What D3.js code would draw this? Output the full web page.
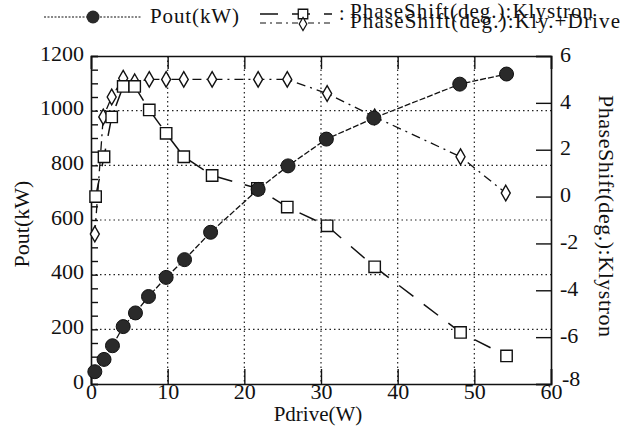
<!DOCTYPE html>
<html>
<head>
<meta charset="utf-8">
<script src="https://cdn.jsdelivr.net/npm/d3@7"></script>
<style>
body { margin: 0; background: #fff; }
</style>
</head>
<body>
<div id="chart"></div>
<script>
// Pout vs drive power
var poutDrive = [0.5, 1.7, 2.8, 4.2, 5.8, 7.5, 9.8, 12.2, 15.6, 21.8, 25.7, 30.7, 36.9, 48.1, 54.2];
var poutKW = [45, 90, 140, 210, 260, 320, 390, 455, 555, 712, 798, 896, 973, 1097, 1134];

// phase shift of the klystron alone (squares)
var klyDrive = [0.6, 1.7, 2.7, 4.2, 5.7, 7.6, 9.8, 12.1, 15.8, 21.7, 25.6, 30.8, 37.0, 48.2, 54.2];
var klyPhase = [0.0, 1.7, 3.4, 4.7, 4.7, 3.7, 2.7, 1.7, 0.9, 0.35, -0.45, -1.25, -3.0, -5.8, -6.8];

// phase shift klystron + drive (diamonds)
var kdDrive = [0.5, 1.6, 2.7, 4.2, 5.7, 7.6, 9.8, 12.1, 15.8, 21.8, 25.6, 30.8, 37.0, 48.2, 54.1];
var kdPhase = [-1.6, 3.4, 4.25, 5.05, 4.9, 5.0, 5.0, 5.0, 5.0, 5.0, 5.0, 4.4, 3.4, 1.7, 0.15];

var xTicks = [0, 10, 20, 30, 40, 50, 60];
var leftTicks = [0, 200, 400, 600, 800, 1000, 1200];
var rightTicks = [-8, -6, -4, -2, 0, 2, 4, 6];

var FONT = '"Liberation Serif", "Times New Roman", Tinos, "DejaVu Serif", serif';

var width = 633, height = 430;
var margin = {top: 56, right: 82, bottom: 46, left: 91};
var plotW = width - margin.left - margin.right;
var plotH = height - margin.top - margin.bottom;

var svg = d3.select('#chart').append('svg')
    .attr('width', width)
    .attr('height', height)
    .attr('font-family', FONT);

var g = svg.append('g')
    .attr('transform', 'translate(' + margin.left + ',' + margin.top + ')');

var x = d3.scaleLinear().domain([0, 60]).range([0, plotW]);
var yL = d3.scaleLinear().domain([0, 1200]).range([plotH, 0]);
var yR = d3.scaleLinear().domain([-8, 6]).range([plotH, 0]);

function addText(parent, str, size) {
    return parent.append('text')
        .attr('font-family', FONT)
        .attr('font-size', size)
        .attr('fill', '#111')
        .text(str);
}

// dotted grid
g.selectAll('line.vgrid')
    .data(xTicks.slice(1, -1))
    .enter().append('line')
    .attr('x1', function(d) { return x(d); })
    .attr('x2', function(d) { return x(d); })
    .attr('y1', 0).attr('y2', plotH)
    .attr('stroke', '#222').attr('stroke-width', 1.2)
    .attr('stroke-dasharray', '1.5,3');

g.selectAll('line.hgrid')
    .data(leftTicks.slice(1, -1))
    .enter().append('line')
    .attr('y1', function(d) { return yL(d); })
    .attr('y2', function(d) { return yL(d); })
    .attr('x1', 0).attr('x2', plotW)
    .attr('stroke', '#222').attr('stroke-width', 1.2)
    .attr('stroke-dasharray', '1.5,3');

// axes, ticks drawn inward
var bottomAxis = d3.axisBottom(x).tickValues(xTicks).tickSize(-15).tickPadding(2).tickFormat(d3.format('d'));
var topAxis = d3.axisTop(x).tickValues(xTicks).tickSize(-13).tickFormat('');
var leftAxis = d3.axisLeft(yL).tickValues(d3.range(0, 1201, 50)).tickSize(-7).tickFormat('');
var rightAxis = d3.axisRight(yR).tickValues(rightTicks).tickSize(-15).tickFormat('');

function styleAxis(sel) {
    sel.attr('font-family', FONT).attr('font-size', 22);
    sel.select('.domain').attr('stroke', '#111').attr('stroke-width', 1.6);
    sel.selectAll('.tick line').attr('stroke', '#111').attr('stroke-width', 1.4);
    sel.selectAll('text').attr('fill', '#111');
}

g.append('g').attr('transform', 'translate(0,' + plotH + ')').call(bottomAxis).call(styleAxis)
    .selectAll('.tick text').attr('dy', '0.6em');
g.append('g').call(topAxis).call(styleAxis);
g.append('g').call(leftAxis).call(styleAxis);
g.append('g').attr('transform', 'translate(' + plotW + ',0)').call(rightAxis).call(styleAxis);

// tick labels on the value axes
leftTicks.forEach(function(d) {
    addText(g, d, 22)
        .attr('x', -7)
        .attr('y', yL(d) - 3)
        .attr('dy', '0.35em')
        .attr('text-anchor', 'end');
});

rightTicks.forEach(function(d) {
    addText(g, d, 22)
        .attr('x', d === -8 ? plotW + 11 : plotW + 9)
        .attr('y', d === -8 ? yR(d) - 6 : yR(d) - 2)
        .attr('dy', '0.35em');
});

// series lines
var linePout = d3.line()
    .x(function(d) { return x(d[0]); })
    .y(function(d) { return yL(d[1]); });
var linePhase = d3.line()
    .x(function(d) { return x(d[0]); })
    .y(function(d) { return yR(d[1]); });

var poutData = d3.zip(poutDrive, poutKW);
var klyData = d3.zip(klyDrive, klyPhase);
var kdData = d3.zip(kdDrive, kdPhase);

g.append('path').datum(kdData).attr('d', linePhase)
    .attr('fill', 'none').attr('stroke', '#111').attr('stroke-width', 1.3)
    .attr('stroke-dasharray', '9,5,2,5');
g.append('path').datum(klyData).attr('d', linePhase)
    .attr('fill', 'none').attr('stroke', '#111').attr('stroke-width', 1.5)
    .attr('stroke-dasharray', '18,13');
g.append('path').datum(poutData).attr('d', linePout)
    .attr('fill', 'none').attr('stroke', '#111').attr('stroke-width', 1.3)
    .attr('stroke-dasharray', '6,2');

// markers
var diamond = d3.symbol().type(d3.symbolDiamond).size(70);
var square = d3.symbol().type(d3.symbolSquare).size(130);

g.selectAll('path.kd')
    .data(kdData)
    .enter().append('path')
    .attr('d', diamond)
    .attr('transform', function(d) { return 'translate(' + x(d[0]) + ',' + yR(d[1]) + ')'; })
    .attr('fill', '#fff').attr('stroke', '#111').attr('stroke-width', 1.4);

g.selectAll('path.kly')
    .data(klyData)
    .enter().append('path')
    .attr('d', square)
    .attr('transform', function(d) { return 'translate(' + x(d[0]) + ',' + yR(d[1]) + ')'; })
    .attr('fill', '#fff').attr('stroke', '#111').attr('stroke-width', 1.4);

g.selectAll('circle.pout')
    .data(poutData)
    .enter().append('circle')
    .attr('cx', function(d) { return x(d[0]); })
    .attr('cy', function(d) { return yL(d[1]); })
    .attr('r', 7)
    .attr('fill', '#2a2a2a').attr('stroke', '#111').attr('stroke-width', 1);

// axis titles
addText(svg, 'Pdrive(W)', 21)
    .attr('x', 318).attr('y', 421)
    .attr('text-anchor', 'middle');

addText(svg, 'Pout(kW)', 22)
    .attr('transform', 'translate(29,224) rotate(-90)')
    .attr('text-anchor', 'middle');

addText(svg, 'PhaseShift(deg.):Klystron', 22)
    .attr('transform', 'translate(599,216) rotate(90)')
    .attr('text-anchor', 'middle')
    .attr('textLength', 242);

// legend
var legend = svg.append('g');
legend.append('line')
    .attr('x1', 44).attr('x2', 142).attr('y1', 17).attr('y2', 17)
    .attr('stroke', '#111').attr('stroke-width', 1.1).attr('stroke-dasharray', '2,1.5');
legend.append('circle')
    .attr('cx', 93).attr('cy', 17).attr('r', 6.5).attr('fill', '#2a2a2a');
addText(legend, 'Pout(kW)', 21)
    .attr('x', 150).attr('y', 23)
    .attr('textLength', 89);

legend.append('line')
    .attr('x1', 260).attr('x2', 332).attr('y1', 14).attr('y2', 14)
    .attr('stroke', '#111').attr('stroke-width', 1.4).attr('stroke-dasharray', '18,14');
legend.append('path')
    .attr('d', d3.symbol().type(d3.symbolSquare).size(90))
    .attr('transform', 'translate(303,14)')
    .attr('fill', '#fff').attr('stroke', '#111').attr('stroke-width', 1.3);
legend.append('line')
    .attr('x1', 260).attr('x2', 332).attr('y1', 23).attr('y2', 23)
    .attr('stroke', '#111').attr('stroke-width', 1.1).attr('stroke-dasharray', '6,4,2,4');
legend.append('path')
    .attr('d', d3.symbol().type(d3.symbolDiamond).size(50))
    .attr('transform', 'translate(303,24)')
    .attr('fill', '#fff').attr('stroke', '#111').attr('stroke-width', 1.2);

addText(legend, ':', 20).attr('x', 339).attr('y', 20);
addText(legend, 'PhaseShift(deg.):Klystron', 21)
    .attr('x', 350).attr('y', 18)
    .attr('textLength', 243);
addText(legend, 'PhaseShift(deg.):Kly.+Drive', 21)
    .attr('x', 350).attr('y', 28)
    .attr('textLength', 270);
</script>
</body>
</html>
